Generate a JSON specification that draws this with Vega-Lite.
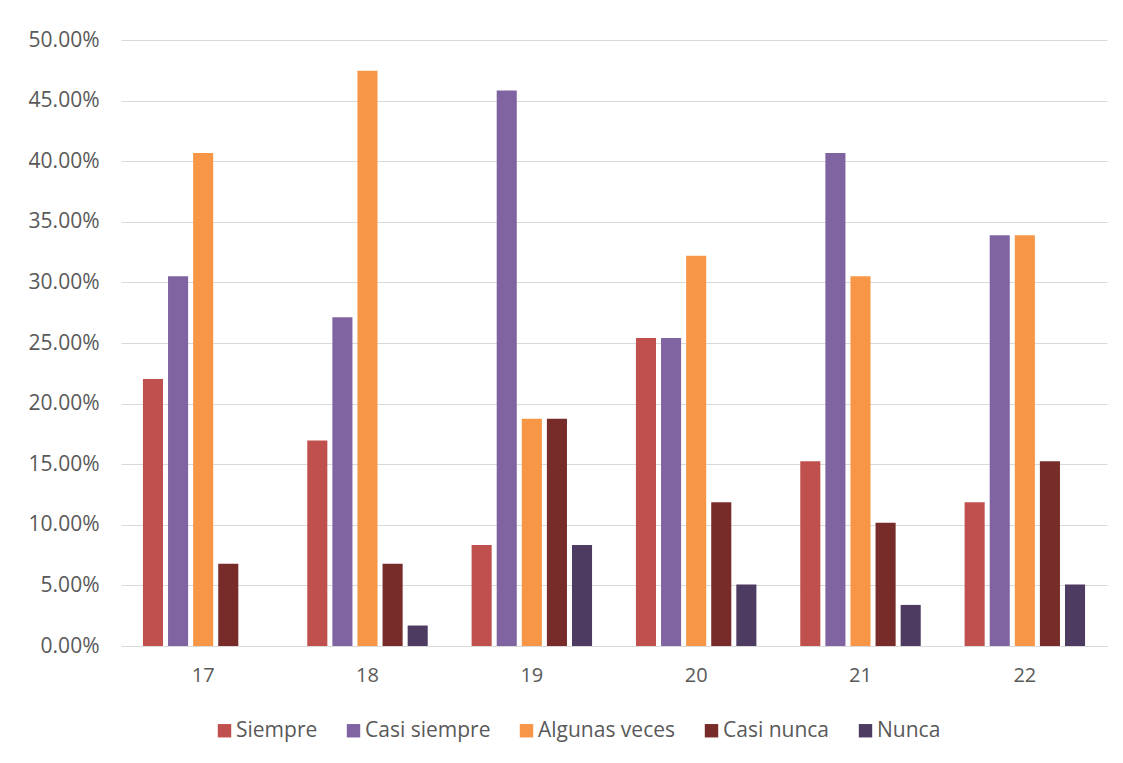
{
  "$schema": "https://vega.github.io/schema/vega-lite/v6.json",
  "width": 986,
  "height": 606,
  "autosize": {"type": "none"},
  "padding": {"left": 121, "top": 40, "right": 16, "bottom": 117},
  "background": "#ffffff",
  "config": {
    "font": "Open Sans",
    "view": {"stroke": null},
    "axis": {"labelFont": "Open Sans", "labelColor": "#595959", "labelFontSize": 21}
  },
  "data": {
    "values": [
      {"edad": "17", "frecuencia": "Siempre", "valor": 0.2203},
      {"edad": "17", "frecuencia": "Casi siempre", "valor": 0.3051},
      {"edad": "17", "frecuencia": "Algunas veces", "valor": 0.4068},
      {"edad": "17", "frecuencia": "Casi nunca", "valor": 0.0678},
      {"edad": "17", "frecuencia": "Nunca", "valor": 0},
      {"edad": "18", "frecuencia": "Siempre", "valor": 0.1695},
      {"edad": "18", "frecuencia": "Casi siempre", "valor": 0.2712},
      {"edad": "18", "frecuencia": "Algunas veces", "valor": 0.4746},
      {"edad": "18", "frecuencia": "Casi nunca", "valor": 0.0678},
      {"edad": "18", "frecuencia": "Nunca", "valor": 0.0169},
      {"edad": "19", "frecuencia": "Siempre", "valor": 0.0833},
      {"edad": "19", "frecuencia": "Casi siempre", "valor": 0.4583},
      {"edad": "19", "frecuencia": "Algunas veces", "valor": 0.1875},
      {"edad": "19", "frecuencia": "Casi nunca", "valor": 0.1875},
      {"edad": "19", "frecuencia": "Nunca", "valor": 0.0833},
      {"edad": "20", "frecuencia": "Siempre", "valor": 0.2542},
      {"edad": "20", "frecuencia": "Casi siempre", "valor": 0.2542},
      {"edad": "20", "frecuencia": "Algunas veces", "valor": 0.3220},
      {"edad": "20", "frecuencia": "Casi nunca", "valor": 0.1186},
      {"edad": "20", "frecuencia": "Nunca", "valor": 0.0508},
      {"edad": "21", "frecuencia": "Siempre", "valor": 0.1525},
      {"edad": "21", "frecuencia": "Casi siempre", "valor": 0.4068},
      {"edad": "21", "frecuencia": "Algunas veces", "valor": 0.3051},
      {"edad": "21", "frecuencia": "Casi nunca", "valor": 0.1017},
      {"edad": "21", "frecuencia": "Nunca", "valor": 0.0339},
      {"edad": "22", "frecuencia": "Siempre", "valor": 0.1186},
      {"edad": "22", "frecuencia": "Casi siempre", "valor": 0.3390},
      {"edad": "22", "frecuencia": "Algunas veces", "valor": 0.3390},
      {"edad": "22", "frecuencia": "Casi nunca", "valor": 0.1525},
      {"edad": "22", "frecuencia": "Nunca", "valor": 0.0508}
    ]
  },
  "mark": {"type": "bar"},
  "encoding": {
    "x": {
      "field": "edad",
      "type": "nominal",
      "title": null,
      "scale": {"paddingInner": 0.267, "paddingOuter": 0.1335},
      "axis": {
        "labelAngle": 0,
        "ticks": false,
        "domain": true,
        "domainColor": "#d9d9d9",
        "domainWidth": 1,
        "labelPadding": 19,
        "labelFontSize": 20
      }
    },
    "xOffset": {
      "field": "frecuencia",
      "type": "nominal",
      "sort": ["Siempre", "Casi siempre", "Algunas veces", "Casi nunca", "Nunca"],
      "scale": {"paddingInner": 0.2, "paddingOuter": 0}
    },
    "y": {
      "field": "valor",
      "type": "quantitative",
      "title": null,
      "scale": {"domain": [0, 0.5], "nice": false},
      "axis": {
        "format": ".2%",
        "values": [0, 0.05, 0.1, 0.15, 0.2, 0.25, 0.3, 0.35, 0.4, 0.45, 0.5],
        "ticks": false,
        "domain": false,
        "grid": true,
        "gridColor": "#d9d9d9",
        "gridWidth": 1,
        "labelPadding": 22,
        "labelFontSize": 21
      }
    },
    "color": {
      "field": "frecuencia",
      "type": "nominal",
      "title": null,
      "scale": {
        "domain": ["Siempre", "Casi siempre", "Algunas veces", "Casi nunca", "Nunca"],
        "range": ["#C0504D", "#8064A2", "#F79646", "#772C2A", "#4D3B62"]
      },
      "legend": {
        "orient": "none",
        "direction": "horizontal",
        "legendX": 93,
        "legendY": 680,
        "symbolType": "square",
        "symbolSize": 180,
        "symbolStrokeWidth": 0,
        "symbolOpacity": 1,
        "labelFont": "Open Sans",
        "labelFontSize": 21,
        "labelColor": "#595959",
        "labelOffset": 1,
        "columnPadding": 25,
        "labelLimit": 300
      }
    }
  }
}
